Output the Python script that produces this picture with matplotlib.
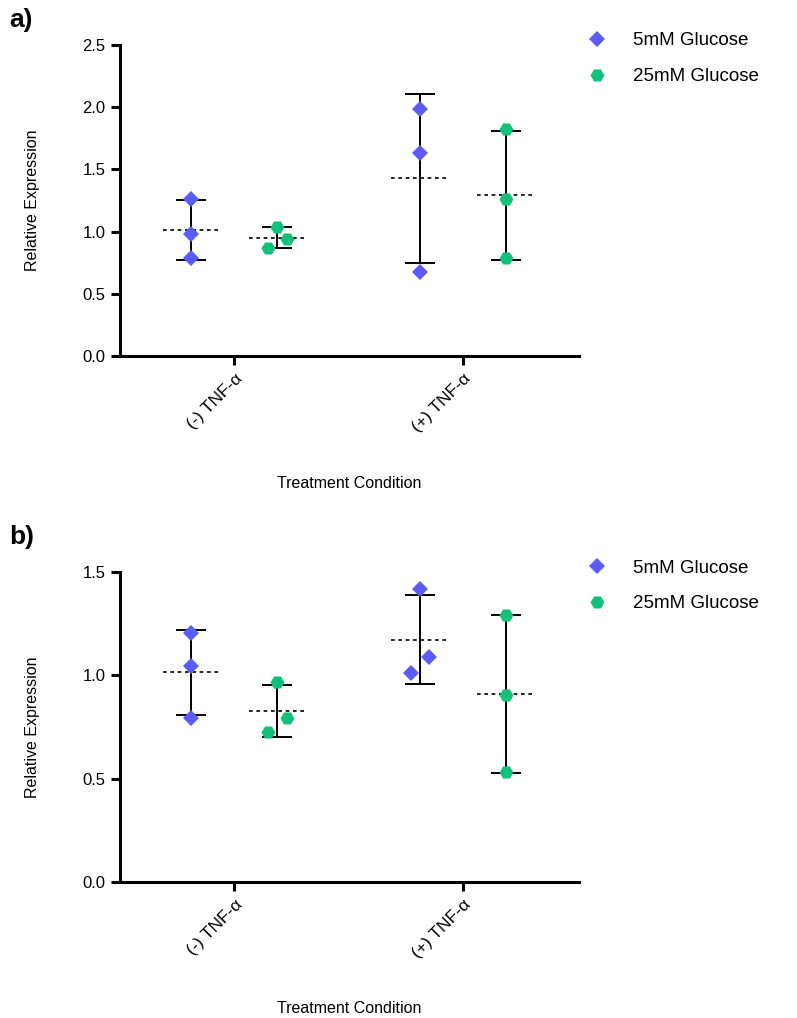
import numpy as np
import matplotlib
matplotlib.use('Agg')
import matplotlib.pyplot as plt

plt.rcParams['font.family'] = ['Liberation Sans', 'DejaVu Sans']

# Data
conditions = ['(-) TNF-α', '(+) TNF-α']
series = ['5mM Glucose', '25mM Glucose']

# panel a) replicate values, per condition
a_5mM = [[1.266, 0.984, 0.790], [1.984, 1.629, 0.672]]
a_25mM = [[1.040, 0.944, 0.871], [1.823, 1.263, 0.785]]
# panel b)
b_5mM = [[1.203, 1.045, 0.795], [1.418, 1.087, 1.013]]
b_25mM = [[0.966, 0.792, 0.726], [1.292, 0.905, 0.531]]

# small horizontal scatter of overlapping points
a_jitter_5 = [[0, 0, 0], [0, 0, 0]]
a_jitter_25 = [[0, 1, -1], [0, 0, 0]]
b_jitter_5 = [[0, 0, 0], [0, 1, -1]]
b_jitter_25 = [[0, 1, -1], [0, 0, 0]]

blue = '#5B5BF5'
green = '#12C07A'


def draw_group(ax, x, vals, jit, color, marker, ms):
    vals = np.array(vals)
    m = vals.mean()
    sd = vals.std(ddof=1)
    ax.errorbar(x, m, yerr=sd, fmt='none', ecolor='black', elinewidth=1.4,
                capsize=10.5, capthick=1.4, zorder=2)
    ax.plot([x - 0.125, x + 0.125], [m, m], color='black', lw=1.2,
            linestyle=(0, (2.2, 2.2)), zorder=2)
    xs = x + np.array(jit) * 0.04
    ax.plot(xs, vals, linestyle='none', marker=marker, markersize=ms,
            color=color, markeredgewidth=0, zorder=3)


def panel(ax, d5, d25, j5, j25, ylim, yticks, letter, letter_y):
    for i in range(len(conditions)):
        draw_group(ax, i - 0.188, d5[i], j5[i], blue, 'D', 8.5)
        draw_group(ax, i + 0.188, d25[i], j25[i], green, 'H', 10)
    ax.set_xlim(-0.5, 1.507)
    ax.set_ylim(*ylim)
    ax.set_yticks(yticks)
    ax.set_yticklabels(['%.1f' % t for t in yticks], fontsize=12)
    ax.set_xticks(range(len(conditions)))
    ax.set_xticklabels(conditions, rotation=45, ha='right',
                       rotation_mode='anchor', fontsize=12.5)
    for s in ['top', 'right']:
        ax.spines[s].set_visible(False)
    for s in ['left', 'bottom']:
        ax.spines[s].set_linewidth(2.2)
    ax.tick_params(width=2.2, length=6.5, pad=4)
    ax.set_ylabel('Relative Expression', fontsize=11.5)
    ax.yaxis.set_label_coords(-0.175, 0.5)
    ax.set_xlabel('Treatment Condition', fontsize=11.5)
    ax.xaxis.set_label_coords(0.5, -0.385)
    ax.text(-0.242, letter_y, letter, transform=ax.transAxes, fontsize=19,
            fontweight='bold', va='center', ha='left')
    h1 = ax.plot([], [], linestyle='none', marker='D', markersize=8.5,
                 color=blue, markeredgewidth=0)[0]
    h2 = ax.plot([], [], linestyle='none', marker='H', markersize=10,
                 color=green, markeredgewidth=0)[0]
    ax.legend([h1, h2], series, loc='upper left', bbox_to_anchor=(0.962, 1.095),
              frameon=False, fontsize=13.5, handletextpad=0.9, labelspacing=1.0)


fig = plt.figure(figsize=(7.97, 10.18), dpi=100)
ax1 = fig.add_axes([0.1506, 0.6503, 0.5759, 0.3055])
ax2 = fig.add_axes([0.1506, 0.1336, 0.5759, 0.3045])

panel(ax1, a_5mM, a_25mM, a_jitter_5, a_jitter_25, (0, 2.5),
      [0, 0.5, 1.0, 1.5, 2.0, 2.5], 'a)', 1.08)
panel(ax2, b_5mM, b_25mM, b_jitter_5, b_jitter_25, (0, 1.5),
      [0, 0.5, 1.0, 1.5], 'b)', 1.113)

fig.savefig('out.png', dpi=100)
